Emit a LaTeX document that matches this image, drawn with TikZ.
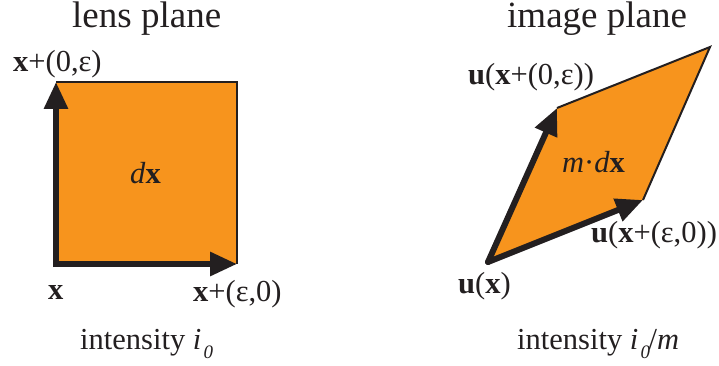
\documentclass[tikz,border=0pt]{standalone}
\usepackage{fontspec}
\setmainfont{Liberation Serif}
\usetikzlibrary{arrows.meta}
\definecolor{fillorange}{HTML}{F7941D}
\definecolor{ink}{HTML}{231F20}
\tikzset{
  lbl/.style={inner sep=0pt, anchor=base west, font=\fontsize{30.5}{36}\selectfont, text=ink},
  ttl/.style={inner sep=0pt, anchor=base west, font=\fontsize{37}{44}\selectfont, text=ink},
  thickarrow/.style={draw=ink, line width=6pt, -{Triangle[length=27pt,width=23pt]}},
  thinedge/.style={draw=ink, line width=2pt, line join=miter},
}
\newcommand{\bx}{\textbf{x}}
\newcommand{\bu}{\textbf{u}}
\begin{document}
\begin{tikzpicture}[x=1pt,y=-1pt]
\useasboundingbox (0,0) rectangle (719,366);
% titles
\node[ttl] (t1) at (72,28) {lens plane};
\node[ttl] (t2) at (507,28) {image plane};
% left square
\coordinate (O) at (56,264);
\coordinate (A) at (237,264);
\coordinate (B) at (56,82);
\coordinate (C) at (237,82);
\fill[fillorange] (O) rectangle (C);
\draw[thinedge] (B) -- (C) -- (A);
\coordinate (Oh) at (53,264);
\coordinate (Ov) at (56,267);
\draw[thickarrow] (Oh) -- (A);
\draw[thickarrow] (Ov) -- (B);
\node[lbl] (lx) at (13,72) {\bx+(0,ε)};
\node[lbl] (dx) at (130,183) {\textit{d}\bx};
\node[lbl] (x0) at (48,299) {\bx};
\node[lbl] (xe) at (193,301) {\bx+(ε,0)};
\node[lbl] (i1) at (80,349) {intensity \textit{i}\raisebox{-0.3em}{\fontsize{19}{20}\selectfont\hspace{0.12em}\textit{0}}};
% right parallelogram
\coordinate (P) at (488,262);
\coordinate (Q) at (557,108);
\coordinate (R) at (710,47);
\coordinate (S) at (643,200);
\fill[fillorange] (P) -- (Q) -- (R) -- (S) -- cycle;
\draw[thinedge] (Q) -- (R) -- (S);
\draw[thickarrow, line cap=round] (P) -- (S);
\draw[thickarrow, line cap=round] (P) -- (Q);
\node[lbl] (uq) at (468,85) {\bu(\bx+(0,ε))};
\node[lbl] (md) at (562,172) {\textit{m}·\textit{d}\bx};
\node[lbl] (us) at (591,242) {\bu(\bx+(ε,0))};
\node[lbl] (up) at (458,293) {\bu(\bx)};
\node[lbl] (i2) at (517,349) {intensity \textit{i}\raisebox{-0.3em}{\fontsize{19}{20}\selectfont\hspace{0.12em}\textit{0}}\hspace{-0.05em}/\textit{m}};
\end{tikzpicture}
\end{document}
